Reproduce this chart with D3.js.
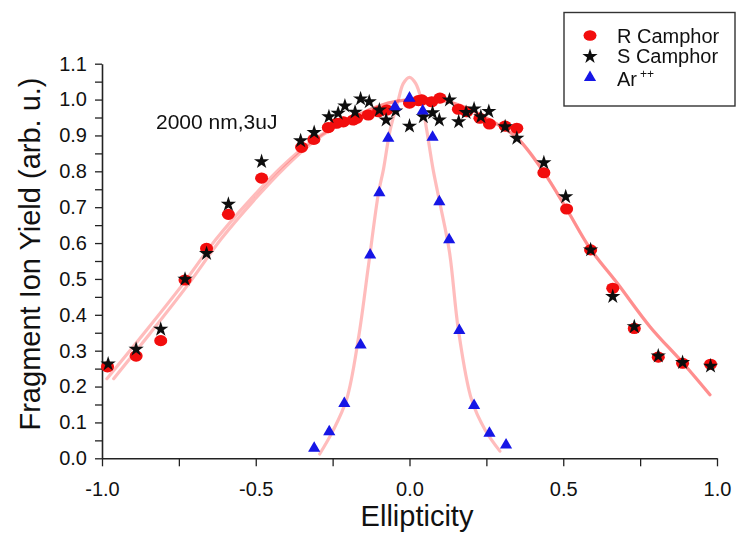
<!DOCTYPE html>
<html>
<head>
<meta charset="utf-8">
<script src="https://cdn.jsdelivr.net/npm/d3@7"></script>
<style>
  html, body { margin: 0; padding: 0; background: #fff; }
  svg { display: block; font-family: "Liberation Sans", Arial, sans-serif; }
</style>
</head>
<body>
<svg id="chart" width="737" height="533"></svg>
<script>
// Fragment ion yield vs. laser ellipticity (2000 nm, 3 uJ)

// R camphor
const rX = [-0.982, -0.889, -0.809, -0.730, -0.660, -0.589, -0.481, -0.351, -0.311, -0.264,
            -0.237, -0.215, -0.183, -0.172, -0.134, -0.101, -0.074, 0.000, 0.029, 0.040,
            0.072, 0.099, 0.159, 0.186, 0.229, 0.260, 0.311, 0.349, 0.437, 0.511,
            0.589, 0.661, 0.731, 0.809, 0.888, 0.979];
const rY = [0.255, 0.285, 0.328, 0.497, 0.585, 0.680, 0.781, 0.867, 0.889, 0.922,
            0.934, 0.938, 0.943, 0.948, 0.957, 0.966, 0.971, 0.990, 0.997, 0.999,
            0.994, 1.004, 0.973, 0.966, 0.948, 0.932, 0.926, 0.920, 0.796, 0.695,
            0.581, 0.474, 0.362, 0.282, 0.265, 0.262];

// S camphor
const sX = [-0.980, -0.889, -0.809, -0.730, -0.660, -0.589, -0.481, -0.354, -0.310, -0.262,
            -0.232, -0.210, -0.177, -0.159, -0.131, -0.098, -0.076, -0.045, 0.000, 0.045,
            0.075, 0.097, 0.130, 0.160, 0.184, 0.210, 0.232, 0.258, 0.311, 0.349,
            0.437, 0.508, 0.589, 0.661, 0.731, 0.809, 0.888, 0.979];
const sY = [0.263, 0.304, 0.360, 0.499, 0.571, 0.708, 0.827, 0.885, 0.908, 0.952,
            0.962, 0.982, 0.965, 1.002, 0.994, 0.971, 0.943, 0.968, 0.926, 0.952,
            0.963, 0.943, 0.999, 0.938, 0.964, 0.974, 0.952, 0.967, 0.924, 0.892,
            0.824, 0.729, 0.581, 0.451, 0.367, 0.285, 0.267, 0.257];

// Ar++
const arX = [-0.310, -0.261, -0.212, -0.159, -0.128, -0.098, -0.069, -0.047, 0.000, 0.043,
             0.075, 0.097, 0.129, 0.162, 0.210, 0.260, 0.314];
const arY = [0.028, 0.074, 0.153, 0.316, 0.567, 0.740, 0.892, 0.980, 1.004, 0.968,
             0.895, 0.715, 0.609, 0.356, 0.147, 0.070, 0.037];

// Fitted curves (sampled)
const fitRX = [-0.962, -0.842, -0.722, -0.612, -0.503, -0.404, -0.316, -0.238, -0.159, -0.070,
               0.002, 0.099, 0.187, 0.262, 0.350, 0.435, 0.511, 0.587, 0.674, 0.782, 0.890, 0.977];
const fitRY = [0.222, 0.350, 0.482, 0.612, 0.722, 0.812, 0.880, 0.925, 0.960, 0.990,
               1.000, 0.999, 0.976, 0.943, 0.893, 0.800, 0.695, 0.585, 0.490, 0.367, 0.265, 0.177];
const fitSX = [-0.984, -0.862, -0.740, -0.628, -0.517, -0.416, -0.324, -0.242, -0.161, -0.070,
               0.002, 0.099, 0.187, 0.262, 0.350, 0.435, 0.511, 0.587, 0.674, 0.782, 0.890, 0.977];
const fitSY = [0.222, 0.350, 0.482, 0.612, 0.722, 0.812, 0.880, 0.925, 0.960, 0.990,
               1.000, 0.999, 0.976, 0.943, 0.893, 0.800, 0.695, 0.585, 0.490, 0.367, 0.265, 0.177];
const fitArX = [-0.292, -0.250, -0.205, -0.166, -0.133, -0.101, -0.085, -0.063, -0.036, -0.020,
                0.000, 0.020, 0.038, 0.056, 0.077, 0.099, 0.130, 0.159, 0.202, 0.246, 0.294];
const fitArY = [0.012, 0.075, 0.163, 0.335, 0.540, 0.739, 0.804, 0.915, 1.000, 1.045,
                1.062, 1.045, 1.000, 0.915, 0.804, 0.711, 0.575, 0.358, 0.163, 0.079, 0.020];

// Axes
const xTicks = [-1.0, -0.75, -0.5, -0.25, 0.0, 0.25, 0.5, 0.75, 1.0];
const xLabelTicks = [-1.0, -0.5, 0.0, 0.5, 1.0];
const yTicks = [0.0, 0.05, 0.1, 0.15, 0.2, 0.25, 0.3, 0.35, 0.4, 0.45, 0.5, 0.55,
                0.6, 0.65, 0.7, 0.75, 0.8, 0.85, 0.9, 0.95, 1.0, 1.05, 1.1];
const yLabelTicks = [0.0, 0.1, 0.2, 0.3, 0.4, 0.5, 0.6, 0.7, 0.8, 0.9, 1.0, 1.1];

const legendLabels = ["R Camphor", "S Camphor", "Ar"];
const legendSup = ["", "", "++"];
const annotation = "2000 nm,3uJ";

const svg = d3.select("#chart");

const x = d3.scaleLinear().domain([-1, 1]).range([102, 717]);
const y = d3.scaleLinear().domain([0, 1.1]).range([458.3, 63.7]);

const defs = svg.append("defs");
defs.append("filter").attr("id", "soft")
  .attr("x", "-30%").attr("y", "-30%").attr("width", "160%").attr("height", "160%")
  .append("feGaussianBlur").attr("stdDeviation", 0.75);

// Axes (plain hyphen for negative labels)
const fmt = v => v.toFixed(1);
const isLabel = (list) => (v) => list.some(t => Math.abs(t - v) < 1e-9);

const gx = svg.append("g").attr("transform", "translate(0,458.3)")
  .call(d3.axisBottom(x).tickValues(xTicks).tickSize(8).tickSizeOuter(0).tickPadding(16)
    .tickFormat(v => isLabel(xLabelTicks)(v) ? fmt(v) : ""));
const gy = svg.append("g").attr("transform", "translate(102,0)")
  .call(d3.axisLeft(y).tickValues(yTicks).tickSize(7).tickSizeOuter(0).tickPadding(8)
    .tickFormat(v => isLabel(yLabelTicks)(v) ? fmt(v) : ""));

[gx, gy].forEach(g => {
  g.select(".domain").attr("stroke", "#222").attr("stroke-width", 1.6);
  g.selectAll(".tick line").attr("stroke", "#222").attr("stroke-width", 1.3);
  g.selectAll(".tick text").attr("fill", "#111").style("font-size", "20px")
    .style("font-family", "'Liberation Sans', Arial, sans-serif");
});

// Fit curves
const line = d3.line().x(d => x(d[0])).y(d => y(d[1])).curve(d3.curveCatmullRom.alpha(0.5));
const fits = [
  d3.zip(fitRX, fitRY),
  d3.zip(fitSX, fitSY),
  d3.zip(fitArX, fitArY)
];
svg.append("g").selectAll("path").data(fits).join("path")
  .attr("d", line)
  .attr("fill", "none")
  .attr("stroke", "#ff3030")
  .attr("stroke-opacity", 0.32)
  .attr("stroke-width", 3.2)
  .attr("stroke-linecap", "round");

// Markers
const marks = svg.append("g").attr("filter", "url(#soft)");

marks.append("g").selectAll("ellipse").data(d3.zip(rX, rY)).join("ellipse")
  .attr("cx", d => x(d[0])).attr("cy", d => y(d[1]))
  .attr("rx", 6.5).attr("ry", 5.6)
  .attr("fill", "#f20808");

const star = d3.symbol().type(d3.symbolStar).size(72);
marks.append("g").selectAll("path").data(d3.zip(sX, sY)).join("path")
  .attr("transform", d => `translate(${x(d[0])},${y(d[1])})`)
  .attr("d", star)
  .attr("fill", "#111");

const tri = d3.symbol().type(d3.symbolTriangle).size(64);
marks.append("g").selectAll("path").data(d3.zip(arX, arY)).join("path")
  .attr("transform", d => `translate(${x(d[0])},${y(d[1])})`)
  .attr("d", tri)
  .attr("fill", "#1414e6");

// Axis titles
svg.append("text")
  .attr("x", 417).attr("y", 526)
  .attr("text-anchor", "middle")
  .style("font-size", "29px").attr("fill", "#111")
  .text("Ellipticity");

svg.append("text")
  .attr("transform", "translate(40,254) rotate(-90)")
  .attr("text-anchor", "middle")
  .style("font-size", "29px").attr("fill", "#111")
  .text("Fragment Ion Yield (arb. u.)");

// Annotation
svg.append("text")
  .attr("x", 156).attr("y", 129)
  .style("font-size", "21px").attr("fill", "#111")
  .text(annotation);

// Legend
const lg = svg.append("g");
lg.append("rect")
  .attr("x", 564).attr("y", 12.5).attr("width", 171).attr("height", 93.5)
  .attr("fill", "#fff").attr("stroke", "#333").attr("stroke-width", 1.4);

const rowY = [35.5, 55.5, 79];
const lm = lg.append("g").attr("filter", "url(#soft)");
lm.append("ellipse").attr("cx", 590).attr("cy", rowY[0]).attr("rx", 6.5).attr("ry", 5.3).attr("fill", "#f20808");
lm.append("path").attr("transform", `translate(590,${rowY[1] + 1})`).attr("d", star).attr("fill", "#111");
lm.append("path").attr("transform", `translate(590,${rowY[2] - 1.5})`).attr("d", tri).attr("fill", "#1414e6");

const labs = lg.selectAll("text.lab").data(legendLabels).join("text")
  .attr("class", "lab")
  .attr("x", 617).attr("y", (d, i) => rowY[i] + 7)
  .style("font-size", "20px").attr("fill", "#111");
labs.append("tspan").text(d => d);
labs.filter((d, i) => legendSup[i] !== "")
  .append("tspan")
  .attr("dx", 3).attr("dy", -8)
  .style("font-size", "12px")
  .text((d) => legendSup[legendLabels.indexOf(d)]);
</script>
</body>
</html>
